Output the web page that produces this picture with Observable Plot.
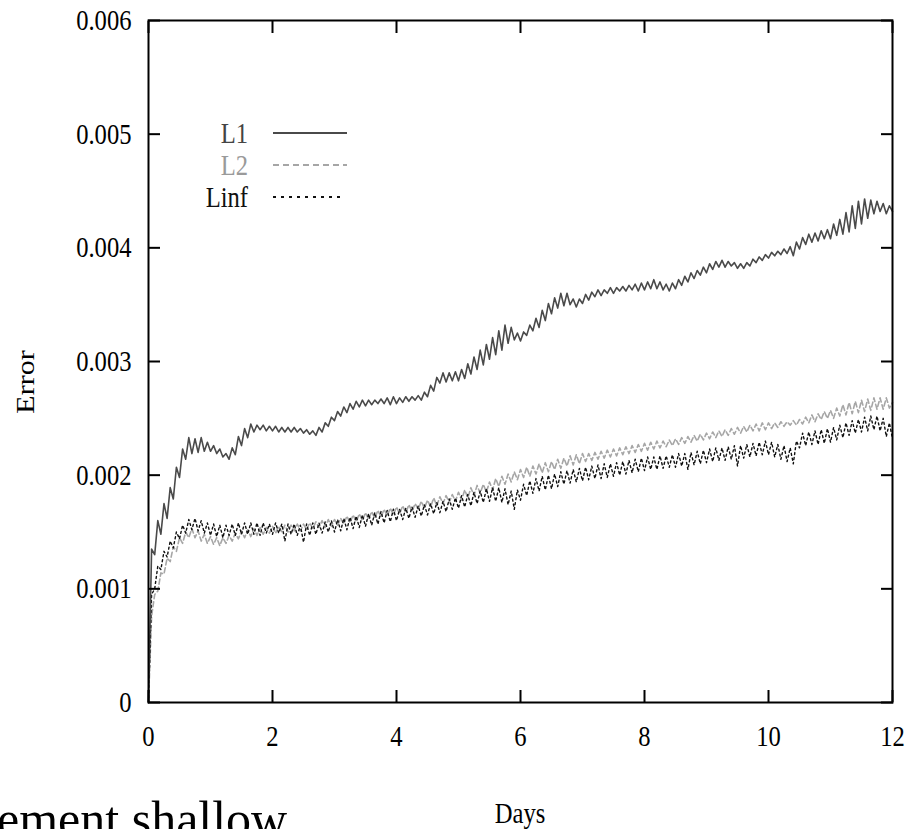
<!DOCTYPE html>
<html><head><meta charset="utf-8">
<script src="https://cdn.jsdelivr.net/npm/d3@7"></script>
<script src="https://cdn.jsdelivr.net/npm/@observablehq/plot@0.6"></script>
<style>body{margin:0;background:#fff}</style>
</head><body><div id="chart"></div>
<script>
// Days sampled every 0.05
const days = [0,0.05,0.1,0.15,0.2,0.25,0.3,0.35,0.4,0.45,0.5,0.55,0.6,0.65,0.7,0.75,0.8,0.85,0.9,0.95,
1,1.05,1.1,1.15,1.2,1.25,1.3,1.35,1.4,1.45,1.5,1.55,1.6,1.65,1.7,1.75,1.8,1.85,1.9,1.95,
2,2.05,2.1,2.15,2.2,2.25,2.3,2.35,2.4,2.45,2.5,2.55,2.6,2.65,2.7,2.75,2.8,2.85,2.9,2.95,
3,3.05,3.1,3.15,3.2,3.25,3.3,3.35,3.4,3.45,3.5,3.55,3.6,3.65,3.7,3.75,3.8,3.85,3.9,3.95,
4,4.05,4.1,4.15,4.2,4.25,4.3,4.35,4.4,4.45,4.5,4.55,4.6,4.65,4.7,4.75,4.8,4.85,4.9,4.95,
5,5.05,5.1,5.15,5.2,5.25,5.3,5.35,5.4,5.45,5.5,5.55,5.6,5.65,5.7,5.75,5.8,5.85,5.9,5.95,
6,6.05,6.1,6.15,6.2,6.25,6.3,6.35,6.4,6.45,6.5,6.55,6.6,6.65,6.7,6.75,6.8,6.85,6.9,6.95,
7,7.05,7.1,7.15,7.2,7.25,7.3,7.35,7.4,7.45,7.5,7.55,7.6,7.65,7.7,7.75,7.8,7.85,7.9,7.95,
8,8.05,8.1,8.15,8.2,8.25,8.3,8.35,8.4,8.45,8.5,8.55,8.6,8.65,8.7,8.75,8.8,8.85,8.9,8.95,
9,9.05,9.1,9.15,9.2,9.25,9.3,9.35,9.4,9.45,9.5,9.55,9.6,9.65,9.7,9.75,9.8,9.85,9.9,9.95,
10,10.05,10.1,10.15,10.2,10.25,10.3,10.35,10.4,10.45,10.5,10.55,10.6,10.65,10.7,10.75,10.8,10.85,10.9,10.95,
11,11.05,11.1,11.15,11.2,11.25,11.3,11.35,11.4,11.45,11.5,11.55,11.6,11.65,11.7,11.75,11.8,11.85,11.9,11.95,
12];

const l1 = [0,135e-5,130e-5,160e-5,148e-5,175e-5,162e-5,189e-5,179e-5,207e-5,
198e-5,223e-5,214e-5,233e-5,219e-5,232e-5,220e-5,233e-5,221e-5,229e-5,
221e-5,226e-5,219e-5,223e-5,216e-5,219e-5,214e-5,224e-5,218e-5,234e-5,
226e-5,241e-5,233e-5,245e-5,238e-5,244e-5,240e-5,244e-5,239e-5,243e-5,
239e-5,243e-5,238e-5,242e-5,238e-5,242e-5,238e-5,242e-5,238e-5,241e-5,
237e-5,240e-5,236e-5,239e-5,235e-5,242e-5,238e-5,246e-5,243e-5,251e-5,
248e-5,256e-5,252e-5,260e-5,255e-5,263e-5,258e-5,265e-5,260e-5,266e-5,
261e-5,266e-5,262e-5,266e-5,263e-5,267e-5,263e-5,268e-5,262e-5,269e-5,
263e-5,268e-5,264e-5,269e-5,265e-5,269e-5,266e-5,270e-5,266e-5,273e-5,
269e-5,279e-5,274e-5,286e-5,281e-5,290e-5,282e-5,290e-5,283e-5,291e-5,
283e-5,293e-5,285e-5,298e-5,289e-5,304e-5,293e-5,310e-5,297e-5,315e-5,
302e-5,321e-5,306e-5,327e-5,310e-5,332e-5,316e-5,330e-5,319e-5,325e-5,
318e-5,326e-5,323e-5,332e-5,327e-5,338e-5,330e-5,345e-5,336e-5,351e-5,
342e-5,356e-5,347e-5,360e-5,349e-5,360e-5,350e-5,355e-5,348e-5,355e-5,
351e-5,359e-5,354e-5,361e-5,357e-5,363e-5,358e-5,363e-5,360e-5,365e-5,
360e-5,365e-5,362e-5,366e-5,362e-5,367e-5,363e-5,368e-5,362e-5,369e-5,
363e-5,370e-5,364e-5,372e-5,364e-5,370e-5,363e-5,368e-5,362e-5,369e-5,
364e-5,372e-5,367e-5,375e-5,370e-5,378e-5,373e-5,380e-5,376e-5,383e-5,
378e-5,386e-5,381e-5,388e-5,383e-5,389e-5,383e-5,388e-5,384e-5,387e-5,
382e-5,386e-5,382e-5,387e-5,384e-5,390e-5,387e-5,392e-5,389e-5,394e-5,
391e-5,396e-5,393e-5,397e-5,394e-5,399e-5,395e-5,401e-5,393e-5,405e-5,
399e-5,409e-5,403e-5,412e-5,405e-5,413e-5,406e-5,415e-5,408e-5,416e-5,
408e-5,421e-5,411e-5,425e-5,412e-5,431e-5,414e-5,437e-5,417e-5,441e-5,
421e-5,443e-5,426e-5,442e-5,430e-5,441e-5,432e-5,439e-5,430e-5,437e-5,
432e-5];

const l2 = [0,76e-5,95e-5,98e-5,114e-5,113e-5,127e-5,124e-5,137e-5,133e-5,
145e-5,140e-5,150e-5,145e-5,153e-5,145e-5,151e-5,142e-5,148e-5,140e-5,
146e-5,139e-5,145e-5,138e-5,145e-5,140e-5,147e-5,142e-5,149e-5,144e-5,
151e-5,145e-5,152e-5,146e-5,153e-5,147e-5,154e-5,148e-5,154e-5,149e-5,
155e-5,149e-5,155e-5,150e-5,156e-5,150e-5,156e-5,151e-5,157e-5,151e-5,
157e-5,152e-5,158e-5,153e-5,159e-5,154e-5,160e-5,154e-5,161e-5,155e-5,
161e-5,156e-5,162e-5,157e-5,164e-5,158e-5,165e-5,159e-5,166e-5,160e-5,
167e-5,161e-5,168e-5,162e-5,169e-5,163e-5,170e-5,164e-5,171e-5,165e-5,
172e-5,166e-5,173e-5,167e-5,174e-5,168e-5,175e-5,170e-5,177e-5,171e-5,
178e-5,172e-5,180e-5,173e-5,181e-5,175e-5,182e-5,176e-5,183e-5,177e-5,
185e-5,178e-5,187e-5,180e-5,189e-5,182e-5,191e-5,184e-5,192e-5,185e-5,
194e-5,187e-5,197e-5,190e-5,199e-5,192e-5,201e-5,194e-5,203e-5,196e-5,
205e-5,198e-5,207e-5,199e-5,208e-5,201e-5,210e-5,202e-5,211e-5,203e-5,
212e-5,205e-5,214e-5,206e-5,215e-5,208e-5,217e-5,209e-5,218e-5,210e-5,
219e-5,212e-5,219e-5,213e-5,220e-5,214e-5,221e-5,215e-5,222e-5,216e-5,
223e-5,217e-5,224e-5,218e-5,225e-5,219e-5,226e-5,220e-5,227e-5,221e-5,
228e-5,222e-5,229e-5,223e-5,230e-5,224e-5,230e-5,225e-5,231e-5,226e-5,
232e-5,227e-5,233e-5,228e-5,234e-5,229e-5,235e-5,230e-5,236e-5,231e-5,
237e-5,232e-5,238e-5,233e-5,239e-5,234e-5,240e-5,235e-5,241e-5,236e-5,
242e-5,237e-5,243e-5,238e-5,244e-5,239e-5,245e-5,239e-5,246e-5,240e-5,
246e-5,241e-5,246e-5,242e-5,247e-5,243e-5,247e-5,244e-5,248e-5,244e-5,
249e-5,245e-5,251e-5,246e-5,253e-5,247e-5,254e-5,249e-5,256e-5,250e-5,
257e-5,250e-5,259e-5,252e-5,262e-5,253e-5,264e-5,254e-5,265e-5,255e-5,
266e-5,256e-5,267e-5,257e-5,268e-5,258e-5,268e-5,258e-5,268e-5,259e-5,
264e-5];

const linf = [0,95e-5,100e-5,120e-5,117e-5,133e-5,128e-5,142e-5,136e-5,150e-5,
144e-5,156e-5,149e-5,161e-5,152e-5,162e-5,151e-5,160e-5,149e-5,158e-5,
147e-5,157e-5,146e-5,156e-5,145e-5,156e-5,147e-5,157e-5,147e-5,158e-5,
148e-5,158e-5,148e-5,158e-5,148e-5,158e-5,147e-5,158e-5,149e-5,157e-5,
148e-5,158e-5,149e-5,157e-5,142e-5,157e-5,148e-5,157e-5,147e-5,156e-5,
141e-5,157e-5,147e-5,158e-5,148e-5,158e-5,149e-5,159e-5,150e-5,160e-5,
150e-5,161e-5,151e-5,162e-5,152e-5,163e-5,153e-5,164e-5,154e-5,165e-5,
155e-5,166e-5,156e-5,167e-5,157e-5,168e-5,158e-5,169e-5,159e-5,170e-5,
160e-5,170e-5,161e-5,171e-5,162e-5,172e-5,163e-5,173e-5,164e-5,174e-5,
165e-5,175e-5,166e-5,176e-5,167e-5,177e-5,168e-5,179e-5,170e-5,180e-5,
171e-5,182e-5,172e-5,183e-5,173e-5,185e-5,175e-5,186e-5,176e-5,188e-5,
177e-5,189e-5,177e-5,189e-5,176e-5,188e-5,174e-5,186e-5,170e-5,187e-5,
178e-5,192e-5,182e-5,195e-5,184e-5,197e-5,186e-5,199e-5,187e-5,200e-5,
188e-5,201e-5,190e-5,203e-5,192e-5,204e-5,193e-5,205e-5,194e-5,206e-5,
195e-5,207e-5,196e-5,208e-5,197e-5,209e-5,197e-5,210e-5,198e-5,210e-5,
199e-5,211e-5,200e-5,212e-5,201e-5,213e-5,202e-5,214e-5,203e-5,215e-5,
204e-5,216e-5,205e-5,216e-5,205e-5,217e-5,206e-5,217e-5,207e-5,218e-5,
207e-5,219e-5,208e-5,219e-5,205e-5,220e-5,209e-5,221e-5,210e-5,222e-5,
211e-5,223e-5,212e-5,224e-5,213e-5,224e-5,213e-5,225e-5,214e-5,226e-5,
208e-5,226e-5,215e-5,227e-5,216e-5,228e-5,217e-5,229e-5,218e-5,230e-5,
218e-5,229e-5,216e-5,227e-5,214e-5,226e-5,212e-5,224e-5,210e-5,230e-5,
224e-5,237e-5,226e-5,238e-5,227e-5,239e-5,227e-5,240e-5,228e-5,241e-5,
229e-5,242e-5,231e-5,244e-5,233e-5,246e-5,235e-5,248e-5,237e-5,249e-5,
238e-5,251e-5,239e-5,252e-5,240e-5,252e-5,239e-5,250e-5,234e-5,246e-5,
232e-5];

const seriesNames = ["L1", "L2", "Linf"];
const xTicks = [0, 2, 4, 6, 8, 10, 12];
const yTicks = [0, 0.001, 0.002, 0.003, 0.004, 0.005, 0.006];
const yTickLabels = ["0", "0.001", "0.002", "0.003", "0.004", "0.005", "0.006"];
const xLabel = "Days";
const yLabel = "Error";
const footerText = "ement shallow";

const table = days.map((d, i) => ({day: d, L1: l1[i], L2: l2[i], Linf: linf[i]}));

const styles = {
  L1:   {stroke: "#4a4a4a", text: "#444", dash: null, legendDash: null},
  L2:   {stroke: "#a6a6a6", text: "#9a9a9a", dash: "5,3", legendDash: "6,4"},
  Linf: {stroke: "#111111", text: "#111", dash: "2,3", legendDash: "3,5"}
};

const FONT = "'Liberation Serif','Times New Roman',serif";
const tickOpts = {stroke: "#000", strokeWidth: 2, fill: "none", tickFormat: () => "", label: null};

const plot = Plot.plot({
  width: 916, height: 829,
  marginLeft: 148, marginRight: 24, marginTop: 20, marginBottom: 127,
  style: {fontFamily: FONT, fontSize: "30px", background: "#fff", color: "#000"},
  x: {domain: [0, 12]},
  y: {domain: [0, 0.006]},
  marks: [
    Plot.line(table, {x: "day", y: "L2", stroke: styles.L2.stroke, strokeWidth: 1.6, strokeDasharray: styles.L2.dash}),
    Plot.line(table, {x: "day", y: "Linf", stroke: styles.Linf.stroke, strokeWidth: 1.4, strokeDasharray: styles.Linf.dash}),
    Plot.line(table, {x: "day", y: "L1", stroke: styles.L1.stroke, strokeWidth: 1.6}),
    Plot.axisX({anchor: "bottom", ticks: xTicks, tickSize: 12, dy: -12, ...tickOpts}),
    Plot.axisX({anchor: "top", ticks: xTicks, tickSize: 12, dy: 12, ...tickOpts}),
    Plot.axisY({anchor: "left", ticks: yTicks, tickSize: 12, dx: 12, ...tickOpts}),
    Plot.axisY({anchor: "right", ticks: yTicks, tickSize: 12, dx: -12, ...tickOpts}),
    Plot.axisX({anchor: "bottom", ticks: xTicks, tickSize: 0, tickPadding: 22, label: null, fill: "#000"}),
    Plot.axisY({anchor: "left", ticks: yTicks, tickSize: 0, tickPadding: 17, label: null, fill: "#000",
      tickFormat: d => yTickLabels[yTicks.indexOf(d)]}),
    Plot.frame({stroke: "#000", strokeWidth: 2})
  ]
});

const svg = d3.select(plot);
svg.style("overflow", "hidden");

// Legend
const legendLayout = {textRight: 248, lineX1: 273, lineX2: {L1: 347, L2: 347, Linf: 340}, y0: 133, dy: 32};
seriesNames.forEach((name, i) => {
  const y = legendLayout.y0 + i * legendLayout.dy;
  const st = styles[name];
  svg.append("text")
    .attr("x", legendLayout.textRight).attr("y", y + 10)
    .attr("text-anchor", "end").attr("fill", st.text)
    .attr("font-family", FONT).attr("font-size", 30)
    .text(name);
  svg.append("line")
    .attr("x1", legendLayout.lineX1).attr("x2", legendLayout.lineX2[name])
    .attr("y1", y).attr("y2", y)
    .attr("stroke", st.stroke).attr("stroke-width", 1.8)
    .attr("stroke-dasharray", st.legendDash);
});

// Axis titles
svg.append("text")
  .attr("x", 520).attr("y", 823).attr("text-anchor", "middle")
  .attr("font-family", FONT).attr("font-size", 30).attr("fill", "#000")
  .text(xLabel);
svg.append("text")
  .attr("transform", "translate(25,382) rotate(-90)")
  .attr("text-anchor", "middle").attr("dy", "0.35em")
  .attr("font-family", FONT).attr("font-size", 30).attr("fill", "#000")
  .text(yLabel);

// Condense figure text horizontally (the source figure is squeezed)
svg.selectAll("text").each(function () {
  const t = this;
  const tr = t.getAttribute("transform");
  if (tr && /translate\(/.test(tr)) {
    t.setAttribute("transform", tr.replace(/(translate\([^)]*\))/, "$1 scale(0.82,1)"));
  } else {
    const x = +t.getAttribute("x") || 0;
    t.setAttribute("transform", `translate(${x},0) scale(0.82,1) translate(${-x},0)`);
  }
});

// Cut-off slide text at the bottom left (not condensed)
svg.append("text")
  .attr("x", -3).attr("y", 836).attr("text-anchor", "start")
  .attr("font-family", FONT).attr("font-size", 50).attr("fill", "#000")
  .text(footerText);

document.getElementById("chart").appendChild(plot);
</script>
</body></html>
